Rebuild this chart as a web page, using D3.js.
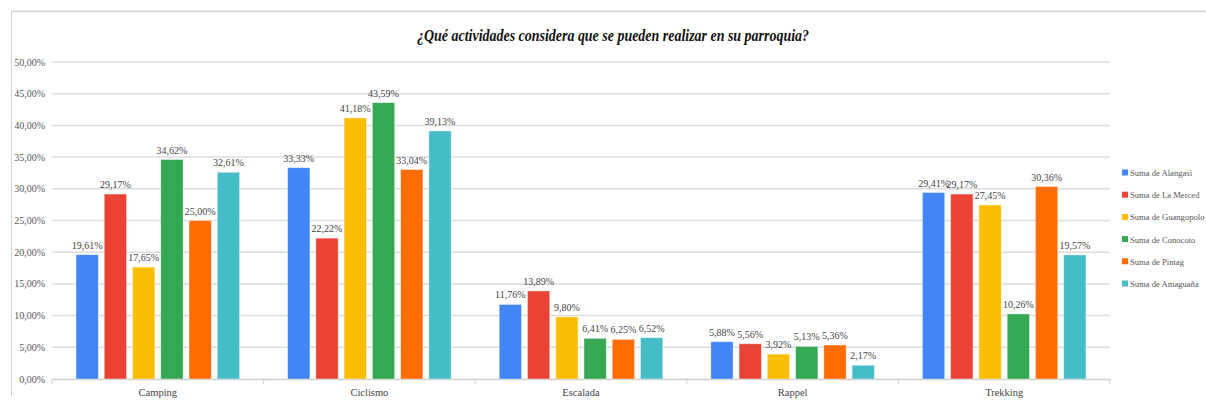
<!DOCTYPE html>
<html>
<head>
<meta charset="utf-8">
<script src="https://cdn.jsdelivr.net/npm/d3@7"></script>
<style>
  body { margin: 0; background: #fff; }
  svg text { font-family: "Liberation Serif", "Times New Roman", serif; }
</style>
</head>
<body>
<div id="chart"></div>
<script>
'use strict';

let categories = ["Camping", "Ciclismo", "Escalada", "Rappel", "Trekking"];
let seriesNames = ["Suma de Alangasi", "Suma de La Merced", "Suma de Guangopolo",
                   "Suma de Conocoto", "Suma de Pintag", "Suma de Amaguaña"];
let alangasi   = [19.61, 33.33, 11.76, 5.88, 29.41];
let laMerced   = [29.17, 22.22, 13.89, 5.56, 29.17];
let guangopolo = [17.65, 41.18, 9.80, 3.92, 27.45];
let conocoto   = [34.62, 43.59, 6.41, 5.13, 10.26];
let pintag     = [25.00, 33.04, 6.25, 5.36, 30.36];
let amaguana   = [32.61, 39.13, 6.52, 2.17, 19.57];
let yTicks = [0, 5, 10, 15, 20, 25, 30, 35, 40, 45, 50];

let colors = ["#4285f4", "#ea4335", "#fbbc04", "#34a853", "#ff6d01", "#46bdc6"];
let allSeries = [alangasi, laMerced, guangopolo, conocoto, pintag, amaguana];

let width = 1206, height = 403;
let margin = {top: 62, right: 96, bottom: 24, left: 52};

let svg = d3.select("#chart").append("svg")
    .attr("width", width)
    .attr("height", height);

// chart frame
svg.append("line")
    .attr("x1", 11).attr("x2", width).attr("y1", 11.5).attr("y2", 11.5)
    .attr("stroke", "#d0d0d0").attr("stroke-width", 1.5);
svg.append("line")
    .attr("x1", 11.5).attr("x2", 11.5).attr("y1", 11).attr("y2", 396)
    .attr("stroke", "#d0d0d0").attr("stroke-width", 1);

// title
svg.append("text")
    .attr("x", 613)
    .attr("y", 41)
    .attr("text-anchor", "middle")
    .attr("font-size", 17)
    .attr("font-weight", "bold")
    .attr("font-style", "italic")
    .attr("fill", "#111")
    .attr("textLength", 392)
    .attr("lengthAdjust", "spacingAndGlyphs")
    .text("¿Qué actividades considera que se pueden realizar en su parroquia?");

let x0 = d3.scaleBand()
    .domain(categories)
    .range([margin.left, width - margin.right])
    .paddingInner(0)
    .paddingOuter(0);

let x1 = d3.scaleBand()
    .domain(d3.range(seriesNames.length))
    .range([24, x0.bandwidth() - 24])
    .paddingInner(0.21);

let y = d3.scaleLinear()
    .domain([0, 50])
    .range([height - margin.bottom, margin.top]);

let fmt = v => d3.format(".2f")(v).replace(".", ",") + "%";

// gridlines + y labels
let yAxis = svg.append("g");
yAxis.selectAll("line")
    .data(yTicks.filter(d => d > 0))
    .enter().append("line")
    .attr("x1", margin.left).attr("x2", width - margin.right)
    .attr("y1", d => y(d)).attr("y2", d => y(d))
    .attr("stroke", "#dcdcdc")
    .attr("stroke-width", 1.5);

yAxis.selectAll("text")
    .data(yTicks)
    .enter().append("text")
    .attr("x", 45)
    .attr("y", d => y(d))
    .attr("dy", "0.35em")
    .attr("text-anchor", "end")
    .attr("font-size", 10)
    .attr("fill", "#555")
    .text(d => fmt(d));

// x axis
let xAxis = svg.append("g")
    .attr("transform", "translate(0," + y(0) + ")")
    .call(d3.axisBottom(x0).tickSize(0).tickPadding(10));
xAxis.select(".domain").attr("stroke", "#cfcfcf").attr("stroke-width", 1.5);
xAxis.selectAll("text")
    .attr("font-family", "Liberation Serif, serif")
    .attr("font-size", 10.5)
    .attr("fill", "#444");

// category separators
svg.append("g").selectAll("line")
    .data(categories.concat(["end"]))
    .enter().append("line")
    .attr("x1", (d, i) => margin.left + i * x0.step())
    .attr("x2", (d, i) => margin.left + i * x0.step())
    .attr("y1", y(0)).attr("y2", y(0) + 5)
    .attr("stroke", "#cfcfcf");

// bars
let groups = svg.append("g").selectAll("g")
    .data(categories)
    .enter().append("g")
    .attr("transform", d => "translate(" + x0(d) + ",0)");

groups.selectAll("rect")
    .data((c, ci) => allSeries.map((s, si) => ({si: si, v: s[ci]})))
    .enter().append("rect")
    .attr("x", d => x1(d.si))
    .attr("y", d => y(d.v))
    .attr("width", x1.bandwidth())
    .attr("height", d => y(0) - y(d.v))
    .attr("fill", d => colors[d.si])
    .attr("stroke", "#fff")
    .attr("stroke-opacity", 0.5)
    .attr("stroke-width", 0.8);

groups.selectAll("text")
    .data((c, ci) => allSeries.map((s, si) => ({si: si, v: s[ci]})))
    .enter().append("text")
    .attr("x", d => x1(d.si) + x1.bandwidth() / 2)
    .attr("y", d => y(d.v) - 6)
    .attr("text-anchor", "middle")
    .attr("font-size", 10)
    .attr("fill", "#444")
    .text(d => fmt(d.v));

// legend
let legend = svg.append("g").selectAll("g")
    .data(seriesNames)
    .enter().append("g")
    .attr("transform", (d, i) => "translate(1122," + (173 + i * 22.2) + ")");

legend.append("rect")
    .attr("x", 0).attr("y", -3.5)
    .attr("width", 6).attr("height", 6)
    .attr("fill", (d, i) => colors[i]);

legend.append("text")
    .attr("x", 8)
    .attr("y", 0)
    .attr("dy", "0.35em")
    .attr("font-size", 8.6)
    .attr("fill", "#555")
    .text(d => d);
</script>
</body>
</html>
